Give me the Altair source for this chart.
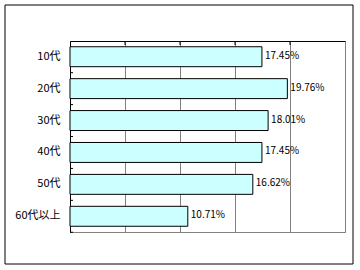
import altair as alt
import pandas as pd

categories = ["10代", "20代", "30代", "40代", "50代", "60代以上"]
values = [17.45, 19.76, 18.01, 17.45, 16.62, 10.71]
x_ticks = [0, 5, 10, 15, 20, 25]

df = pd.DataFrame({
    "cat": categories,
    "val": values,
    "label": [f"{v:.2f}%" for v in values],
})
tick_df = pd.DataFrame({"t": x_ticks[1:-1]})
frame_df = pd.DataFrame({"a": [0]})

FONT = "Noto Sans CJK JP"
GRID = "#808080"

x_scale = alt.Scale(domain=[0, 25], nice=False, zero=True)
y_scale = alt.Scale(paddingInner=0.375, paddingOuter=0.18)

x_enc = alt.X("val:Q", scale=x_scale,
              axis=alt.Axis(orient="top", values=x_ticks, labels=False, ticks=False,
                            title=None, domainColor="black", grid=True,
                            gridColor=GRID, gridWidth=1))
y_enc = alt.Y("cat:N", sort=categories, scale=y_scale,
              axis=alt.Axis(title=None, ticks=False, domainColor="black",
                            labelFont=FONT, labelFontSize=11, labelColor="black",
                            labelPadding=10))

bars = alt.Chart(df).mark_bar(fill="#CCFFFF", stroke="black", strokeWidth=1).encode(
    x=x_enc, y=y_enc
)

labels = alt.Chart(df).mark_text(align="left", baseline="middle", dx=3, dy=-1,
                                 font=FONT, fontSize=10, color="black").encode(
    x=alt.X("val:Q", scale=x_scale),
    y=alt.Y("cat:N", sort=categories, scale=y_scale),
    text="label:N",
)

y_ticks = alt.Chart(df).mark_rule(color="black", strokeWidth=1, yOffset=6).encode(
    y=alt.Y("cat:N", sort=categories, scale=y_scale, bandPosition=1),
    x=alt.value(0), x2=alt.value(3),
)

top_ticks = alt.Chart(tick_df).mark_rule(color="black", strokeWidth=1).encode(
    x=alt.X("t:Q", scale=x_scale),
    y=alt.value(0), y2=alt.value(4),
)

frame = alt.Chart(frame_df).mark_rect(fillOpacity=0, stroke="black", strokeWidth=1).encode(
    x=alt.value(-65), x2=alt.value(283), y=alt.value(-36), y2=alt.value(223),
)

chart = alt.layer(bars, labels, y_ticks, top_ticks, frame).properties(
    width=275, height=191,
    autosize=alt.AutoSizeParams(type="none"),
    padding={"left": 70, "top": 41, "right": 15, "bottom": 38},
    background="white",
).configure_view(stroke=GRID, strokeWidth=1)

chart.save("out.html", embed_options={"renderer": "svg", "actions": False})
